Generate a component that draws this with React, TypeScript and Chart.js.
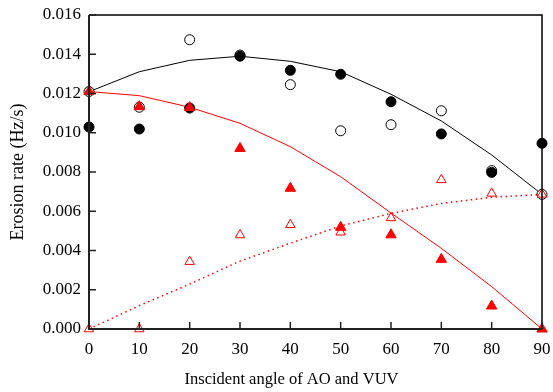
import React, { useEffect, useRef } from "react";
import { Chart, registerables } from "chart.js";

Chart.register(...registerables);

const angles = [0, 10, 20, 30, 40, 50, 60, 70, 80, 90];
const filledCircles = [0.01029, 0.01019, 0.01126, 0.0139, 0.01318, 0.01298, 0.01158, 0.00994, 0.00798, 0.00946];
const openCircles = [0.0121, 0.0113, 0.01474, 0.01396, 0.01245, 0.0101, 0.01041, 0.01112, 0.00807, 0.00686];
const blackFit = [0.01209, 0.01311, 0.01369, 0.0139, 0.01364, 0.01311, 0.01196, 0.0106, 0.00887, 0.00686];
const filledTriangles = [0.0121, 0.01133, 0.01128, 0.0092, 0.00717, 0.00518, 0.0048, 0.00355, 0.00117, 0.0];
const openTriangles = [0.0, 0.0, 0.00343, 0.00479, 0.00531, 0.00493, 0.00566, 0.0076, 0.00691, 0.00686];
const redFit = [0.0121, 0.01189, 0.0113, 0.01048, 0.00929, 0.00776, 0.00591, 0.00411, 0.00216, 0.0];
const redDotted = [0.0, 0.00119, 0.00229, 0.00346, 0.00437, 0.00525, 0.00589, 0.0064, 0.00671, 0.00686];
const yTicks = [0, 0.002, 0.004, 0.006, 0.008, 0.01, 0.012, 0.014, 0.016];
const xTicks = [0, 10, 20, 30, 40, 50, 60, 70, 80, 90];
const xTitle = "Inscident angle of AO and VUV";
const yTitle = "Erosion rate (Hz/s)";

const pts = (ys: number[]) => angles.map((x, i) => ({ x, y: ys[i] }));

const FONT = "'Liberation Serif', 'Times New Roman', serif";

const framePlugin = {
  id: "frame",
  afterDatasetsDraw(chart: any) {
    const { ctx, chartArea } = chart;
    const xs = chart.scales.x;
    const ys = chart.scales.y;
    const { left, right, top, bottom } = chartArea;
    ctx.save();
    ctx.strokeStyle = "#000";
    ctx.lineWidth = 1.5;
    ctx.beginPath();
    ctx.moveTo(left, top);
    ctx.lineTo(right, top);
    ctx.lineTo(right, bottom);
    ctx.stroke();
    ctx.strokeStyle = "#222";
    ctx.lineWidth = 2;
    ctx.beginPath();
    ctx.moveTo(left, top);
    ctx.lineTo(left, bottom);
    ctx.lineTo(right, bottom);
    ctx.stroke();
    ctx.lineWidth = 1.5;
    ctx.beginPath();
    xTicks.forEach((v) => {
      const px = xs.getPixelForValue(v);
      ctx.moveTo(px, bottom);
      ctx.lineTo(px, bottom - 7);
    });
    yTicks.forEach((v) => {
      const py = ys.getPixelForValue(v);
      ctx.moveTo(left, py);
      ctx.lineTo(left + 7, py);
    });
    ctx.stroke();
    // x-axis title (offset left of the plot centre, as in the reference)
    ctx.fillStyle = "#000";
    ctx.font = `16.5px ${FONT}`;
    ctx.textAlign = "center";
    ctx.textBaseline = "middle";
    ctx.fillText(xTitle, left + (right - left) * 0.447, 380);
    ctx.restore();
  },
};

export default function App() {
  const ref = useRef<HTMLCanvasElement>(null);
  useEffect(() => {
    document.body.style.margin = "0";
    const common = { showLine: true, clip: false as any };
    const chart = new Chart(ref.current!, {
      type: "scatter",
      data: {
        datasets: [
          {
            ...common,
            label: "black fit",
            data: pts(blackFit),
            borderColor: "#000",
            borderWidth: 1,
            pointRadius: 0,
            order: 10,
          },
          {
            ...common,
            label: "red fit",
            data: pts(redFit),
            borderColor: "#ff0000",
            borderWidth: 1,
            pointRadius: 0,
            order: 10,
          },
          {
            ...common,
            label: "red dotted",
            data: pts(redDotted),
            borderColor: "#ff0000",
            borderWidth: 1.5,
            borderDash: [1.5, 3.5],
            pointRadius: 0,
            order: 10,
          },
          {
            label: "open circles",
            data: pts(openCircles),
            showLine: false,
            clip: false as any,
            pointStyle: "circle",
            pointRadius: 5,
            pointBackgroundColor: "#fff",
            pointBorderColor: "#000",
            pointBorderWidth: 1,
            order: 5,
          },
          {
            label: "filled circles",
            data: pts(filledCircles),
            showLine: false,
            clip: false as any,
            pointStyle: "circle",
            pointRadius: 5,
            pointBackgroundColor: "#000",
            pointBorderColor: "#000",
            pointBorderWidth: 1,
            order: 4,
          },
          {
            label: "open triangles",
            data: pts(openTriangles),
            showLine: false,
            clip: false as any,
            pointStyle: "triangle",
            pointRadius: 5.5,
            pointBackgroundColor: "rgba(255,255,255,0)",
            pointBorderColor: "#ff0000",
            pointBorderWidth: 1,
            order: 3,
          },
          {
            label: "filled triangles",
            data: pts(filledTriangles),
            showLine: false,
            clip: false as any,
            pointStyle: "triangle",
            pointRadius: 6,
            pointBackgroundColor: "#ff0000",
            pointBorderColor: "#ff0000",
            pointBorderWidth: 1,
            order: 2,
          },
        ],
      },
      options: {
        animation: false,
        responsive: true,
        maintainAspectRatio: false,
        layout: { padding: { left: 0, right: 11, top: 15, bottom: 0 } },
        plugins: { legend: { display: false }, tooltip: { enabled: false } },
        scales: {
          x: {
            type: "linear",
            min: 0,
            max: 90,
            afterFit: (s: any) => {
              s.height = 63;
              s.paddingLeft = 0;
              s.paddingRight = 0;
            },
            afterBuildTicks: (s: any) => {
              s.ticks = xTicks.map((v) => ({ value: v }));
            },
            grid: { display: false, drawTicks: false },
            border: { display: false },
            ticks: {
              padding: 10,
              color: "#000",
              font: { family: FONT, size: 17 },
              callback: (v: any) => String(v),
            },
            title: { display: false },
          },
          y: {
            type: "linear",
            min: 0,
            max: 0.016,
            afterFit: (s: any) => {
              s.width = 89;
              s.paddingTop = 0;
              s.paddingBottom = 0;
            },
            afterBuildTicks: (s: any) => {
              s.ticks = yTicks.map((v) => ({ value: v }));
            },
            grid: { display: false, drawTicks: false },
            border: { display: false },
            ticks: {
              padding: 8,
              color: "#000",
              font: { family: FONT, size: 17 },
              callback: (v: any) => Number(v).toFixed(3),
            },
            title: {
              display: true,
              text: yTitle,
              color: "#000",
              font: { family: FONT, size: 18 },
              padding: { top: 7, bottom: 0 },
            },
          },
        },
      },
      plugins: [framePlugin],
    });
    return () => chart.destroy();
  }, []);
  return (
    <div style={{ position: "absolute", left: 0, top: 0, width: 553, height: 392 }}>
      <canvas ref={ref} />
    </div>
  );
}
